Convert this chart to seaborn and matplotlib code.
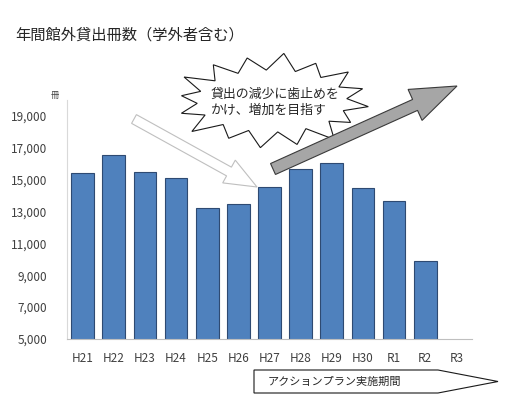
import numpy as np
import pandas as pd
import seaborn as sns
import matplotlib.pyplot as plt
from matplotlib.patches import Polygon

years = ['H21', 'H22', 'H23', 'H24', 'H25', 'H26', 'H27', 'H28', 'H29', 'H30', 'R1', 'R2', 'R3']
loans = [15400, 16520, 15500, 15120, 13200, 13450, 14520, 15640, 16060, 14480, 13690, 9920]
yticks = [5000, 7000, 9000, 11000, 13000, 15000, 17000, 19000]

title = '年間館外貸出冊数（学外者含む）'
burst_text = '貸出の減少に歯止めを\nかけ、増加を目指す'
plan_text = 'アクションプラン実施期間'

df = pd.DataFrame({'year': years[:len(loans)], 'loans': loans})

sns.set_style('white')
plt.rcParams['font.family'] = ['Noto Sans CJK JP', 'DejaVu Sans']

fig = plt.figure(figsize=(5.11, 3.99), dpi=100)
ax = fig.add_axes([67 / 511, 60 / 399, 405 / 511, 239 / 399])

sns.barplot(data=df, x='year', y='loans', order=years, color='#4F81BD',
            saturation=1, width=0.73, edgecolor='#2E4A72', linewidth=0.8, ax=ax)

ax.set_xlim(-0.5, len(years) - 0.5)
ax.set_ylim(5000, 20000)
ax.set_yticks(yticks)
ax.set_yticklabels([f'{v:,}' for v in yticks])
ax.set_xlabel('')
ax.set_ylabel('')
ax.tick_params(axis='y', length=0, pad=14, labelsize=8.5, colors='#404040')
ax.tick_params(axis='x', length=0, pad=9, labelsize=8.5, colors='#404040')
for s in ['top', 'right']:
    ax.spines[s].set_visible(False)
ax.spines['left'].set_color('#D9D9D9')
ax.spines['bottom'].set_color('#BFBFBF')
ax.text(-0.02, 1.0, '冊', transform=ax.transAxes, ha='right', va='bottom', fontsize=6, color='#404040')

fig.text(15 / 511, 1 - 35 / 399, title, fontsize=11, va='center', ha='left')

# overlay in pixel units for the shapes
ov = fig.add_axes([0, 0, 1, 1], zorder=5)
ov.set_xlim(0, 511)
ov.set_ylim(399, 0)
ov.axis('off')
ov.patch.set_alpha(0)


def arrow_poly(x0, y0, x1, y1, sw, hw, hl):
    d = np.array([x1 - x0, y1 - y0], float)
    L = np.hypot(*d)
    u = d / L
    n = np.array([-u[1], u[0]])
    p0 = np.array([x0, y0], float)
    b = p0 + u * (L - hl)
    pts = [p0 + n * sw / 2, b + n * sw / 2, b + n * hw / 2, np.array([x1, y1]),
           b - n * hw / 2, b - n * sw / 2, p0 - n * sw / 2]
    return np.array(pts)


# hollow arrow
ov.add_patch(Polygon(arrow_poly(134, 119, 257, 187, 10, 26, 32), closed=True,
                     facecolor='white', edgecolor='#BFBFBF', linewidth=0.8))

# starburst
cx, cy = 272, 101
npts = 32
ang = np.linspace(0, 2 * np.pi, npts, endpoint=False) + 0.12
jit = np.array([1.0, 0.93, 1.04, 0.96, 1.0, 0.91, 1.05, 0.97, 0.94, 1.04, 0.98, 0.95, 1.02, 0.92, 1.0, 0.97])
rxo, ryo = 97, 47
rxi, ryi = 75, 31
verts = []
for i, a in enumerate(ang):
    if i % 2 == 0:
        r = jit[(i // 2) % len(jit)]
        verts.append((cx + rxo * r * np.cos(a), cy + ryo * r * np.sin(a)))
    else:
        verts.append((cx + rxi * np.cos(a), cy + ryi * np.sin(a)))
ov.add_patch(Polygon(verts, closed=True, facecolor='white', edgecolor='#1A1A1A', linewidth=0.8))
ov.text(211, 102, burst_text, fontsize=9.3, va='center', ha='left', linespacing=1.3)

# gray rising arrow
ov.add_patch(Polygon(arrow_poly(273, 169, 457, 86, 12, 34, 46), closed=True,
                     facecolor='#A6A6A6', edgecolor='#3A3A3A', linewidth=0.8, zorder=3))

# plan period pentagon
pent = [(254, 370), (438, 370), (498, 381.5), (438, 393), (254, 393)]
ov.add_patch(Polygon(pent, closed=True, facecolor='white', edgecolor='#1A1A1A', linewidth=0.8))
ov.text(268, 381.5, plan_text, fontsize=8, va='center', ha='left')

fig.savefig('out.png', dpi=100)
